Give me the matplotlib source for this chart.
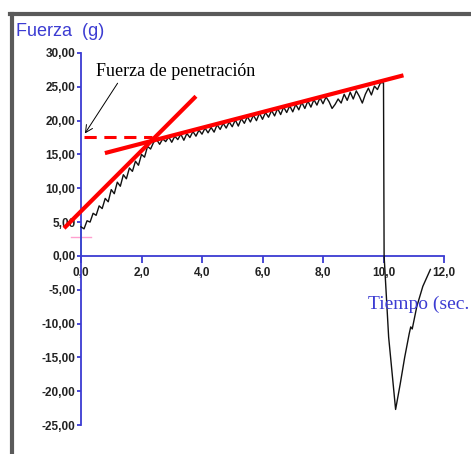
import matplotlib.pyplot as plt
from matplotlib.lines import Line2D

# force curve (time in s, force in g)
tiempo = [0.0, 0.1, 0.2, 0.3, 0.4, 0.5, 0.6, 0.7, 0.8, 0.9,
          1.0, 1.1, 1.2, 1.3, 1.4, 1.5, 1.6, 1.7, 1.8, 1.9,
          2.0, 2.1, 2.2, 2.3, 2.4, 2.5, 2.6, 2.7, 2.8, 2.9,
          3.0, 3.1, 3.2, 3.3, 3.4, 3.5, 3.6, 3.7, 3.8, 3.9,
          4.0, 4.1, 4.2, 4.3, 4.4, 4.5, 4.6, 4.7, 4.8, 4.9,
          5.0, 5.1, 5.2, 5.3, 5.4, 5.5, 5.6, 5.7, 5.8, 5.9,
          6.0, 6.1, 6.2, 6.3, 6.4, 6.5, 6.6, 6.7, 6.8, 6.9,
          7.0, 7.1, 7.2, 7.3, 7.4, 7.5, 7.6, 7.7, 7.8, 7.9,
          8.0, 8.1, 8.2, 8.3, 8.4, 8.5, 8.6, 8.7, 8.8, 8.9,
          9.0, 9.1, 9.2, 9.3, 9.4, 9.5, 9.6, 9.7, 9.8, 9.9,
          10.0, 10.02, 10.17, 10.4, 10.55, 10.7, 10.85, 10.9, 10.95,
          11.1, 11.3, 11.55]
fuerza = [4.3, 4.0, 5.2, 5.0, 6.3, 6.0, 7.4, 7.0, 8.5, 8.0,
          9.8, 9.2, 10.9, 10.3, 12.0, 11.4, 13.0, 12.5, 14.0, 13.4,
          15.0, 14.6, 16.2, 15.8, 16.8, 17.2, 16.5, 17.3, 16.9, 17.6,
          16.8, 17.7, 17.2, 18.0, 17.1, 18.1, 17.5, 18.4, 17.7, 18.6,
          18.0, 18.9, 18.2, 19.0, 18.3, 19.4, 18.7, 19.6, 18.9, 19.8,
          19.1, 20.1, 19.2, 20.3, 19.6, 20.6, 19.8, 20.8, 20.0, 21.1,
          20.2, 21.2, 20.5, 21.5, 20.7, 21.8, 20.9, 22.0, 21.2, 22.2,
          21.3, 22.4, 21.6, 22.7, 21.8, 22.9, 22.0, 23.1, 22.3, 23.4,
          22.5, 23.5, 22.8, 21.8, 22.4, 23.2, 22.6, 23.9, 23.0, 24.2,
          23.2, 24.4, 23.6, 22.6, 23.9, 24.8, 23.8, 25.1, 24.6, 25.6,
          25.6, 0.0, -12.0, -22.7, -19.0, -15.0, -11.5, -10.5, -10.8,
          -7.5, -4.5, -2.0]

# tangent lines
tan1_t = [-0.56, 3.8]
tan1_f = [4.1, 23.6]
tan2_t = [0.79, 10.66]
tan2_f = [15.2, 26.7]
f_pen = 17.55
pen_t = [0.1, 2.35]

yticks = [-25, -20, -15, -10, -5, 0, 5, 10, 15, 20, 25, 30]
xticks = [0, 2, 4, 6, 8, 10, 12]

W, H = 471, 454
fig = plt.figure(figsize=(W / 100, H / 100), dpi=100)
ax = fig.add_axes([81 / W, 1 - 425 / H, (444 - 81) / W, (425 - 53) / H])
ax.set_xlim(0, 12)
ax.set_ylim(-25, 30)

blue = '#3c3cd2'
for s in ['top', 'right']:
    ax.spines[s].set_visible(False)
ax.spines['left'].set_color(blue)
ax.spines['bottom'].set_color(blue)
ax.spines['left'].set_linewidth(1.3)
ax.spines['bottom'].set_linewidth(1.3)
ax.spines['bottom'].set_position(('data', 0))

ax.set_yticks(yticks)
ax.set_yticklabels([('%.2f' % v).replace('.', ',') for v in yticks])
ax.set_xticks(xticks)
ax.set_xticklabels([('%.1f' % v).replace('.', ',') for v in xticks])
ax.tick_params(axis='y', direction='out', length=3, width=1.3, color=blue, pad=1,
               labelsize=8.5, labelcolor='#222222')
ax.tick_params(axis='x', direction='out', length=5, width=1.3, color=blue, pad=3,
               labelsize=8.5, labelcolor='#222222')
for lab in ax.get_xticklabels() + ax.get_yticklabels():
    lab.set_fontfamily('Liberation Sans')
    lab.set_fontweight('bold')

# little markers near the origin
ax.plot([-0.33, 0.33], [2.8, 2.8], color='#ff9fd0', lw=1, clip_on=False)
ax.plot([0, 0], [0, 4.5], color='#40c8a0', lw=1.2, clip_on=False)

ax.plot(tiempo, fuerza, color='#111111', lw=1.0, clip_on=False, zorder=3)

ax.plot(tan1_t, tan1_f, color='#ff0000', lw=3, clip_on=False, zorder=4,
        solid_capstyle='butt')
ax.plot(tan2_t, tan2_f, color='#ff0000', lw=3, clip_on=False, zorder=4,
        solid_capstyle='butt')
ax.plot(pen_t, [f_pen, f_pen], color='#ff0000', lw=2.2, ls=(0, (4, 2.5)),
        clip_on=False, zorder=4)

ax.annotate('Fuerza de penetración', xy=(0.13, 18.1), xytext=(0.48, 27.2),
            fontsize=13, family='Liberation Serif', color='black',
            va='center', ha='left',
            arrowprops=dict(arrowstyle='->', color='black', lw=0.7,
                            shrinkA=0, shrinkB=0,
                            relpos=(0.15, 0.0)))

fig.text(16 / W, 1 - 31 / H, 'Fuerza  (g)', color=blue, fontsize=13,
         family='Liberation Sans', va='center', ha='left')
fig.text(368 / W, 1 - 304 / H, 'Tiempo (sec.', color=blue, fontsize=14,
         family='Liberation Serif', va='center', ha='left')

# grey frame of the screenshot
fig.add_artist(Line2D([10 / W, 1], [1 - 14 / H, 1 - 14 / H], color='#5a5a5a',
                      lw=3, transform=fig.transFigure))
fig.add_artist(Line2D([11.5 / W, 11.5 / W], [0, 1 - 14 / H], color='#5a5a5a',
                      lw=3, transform=fig.transFigure))

fig.savefig('out.png', dpi=100)
